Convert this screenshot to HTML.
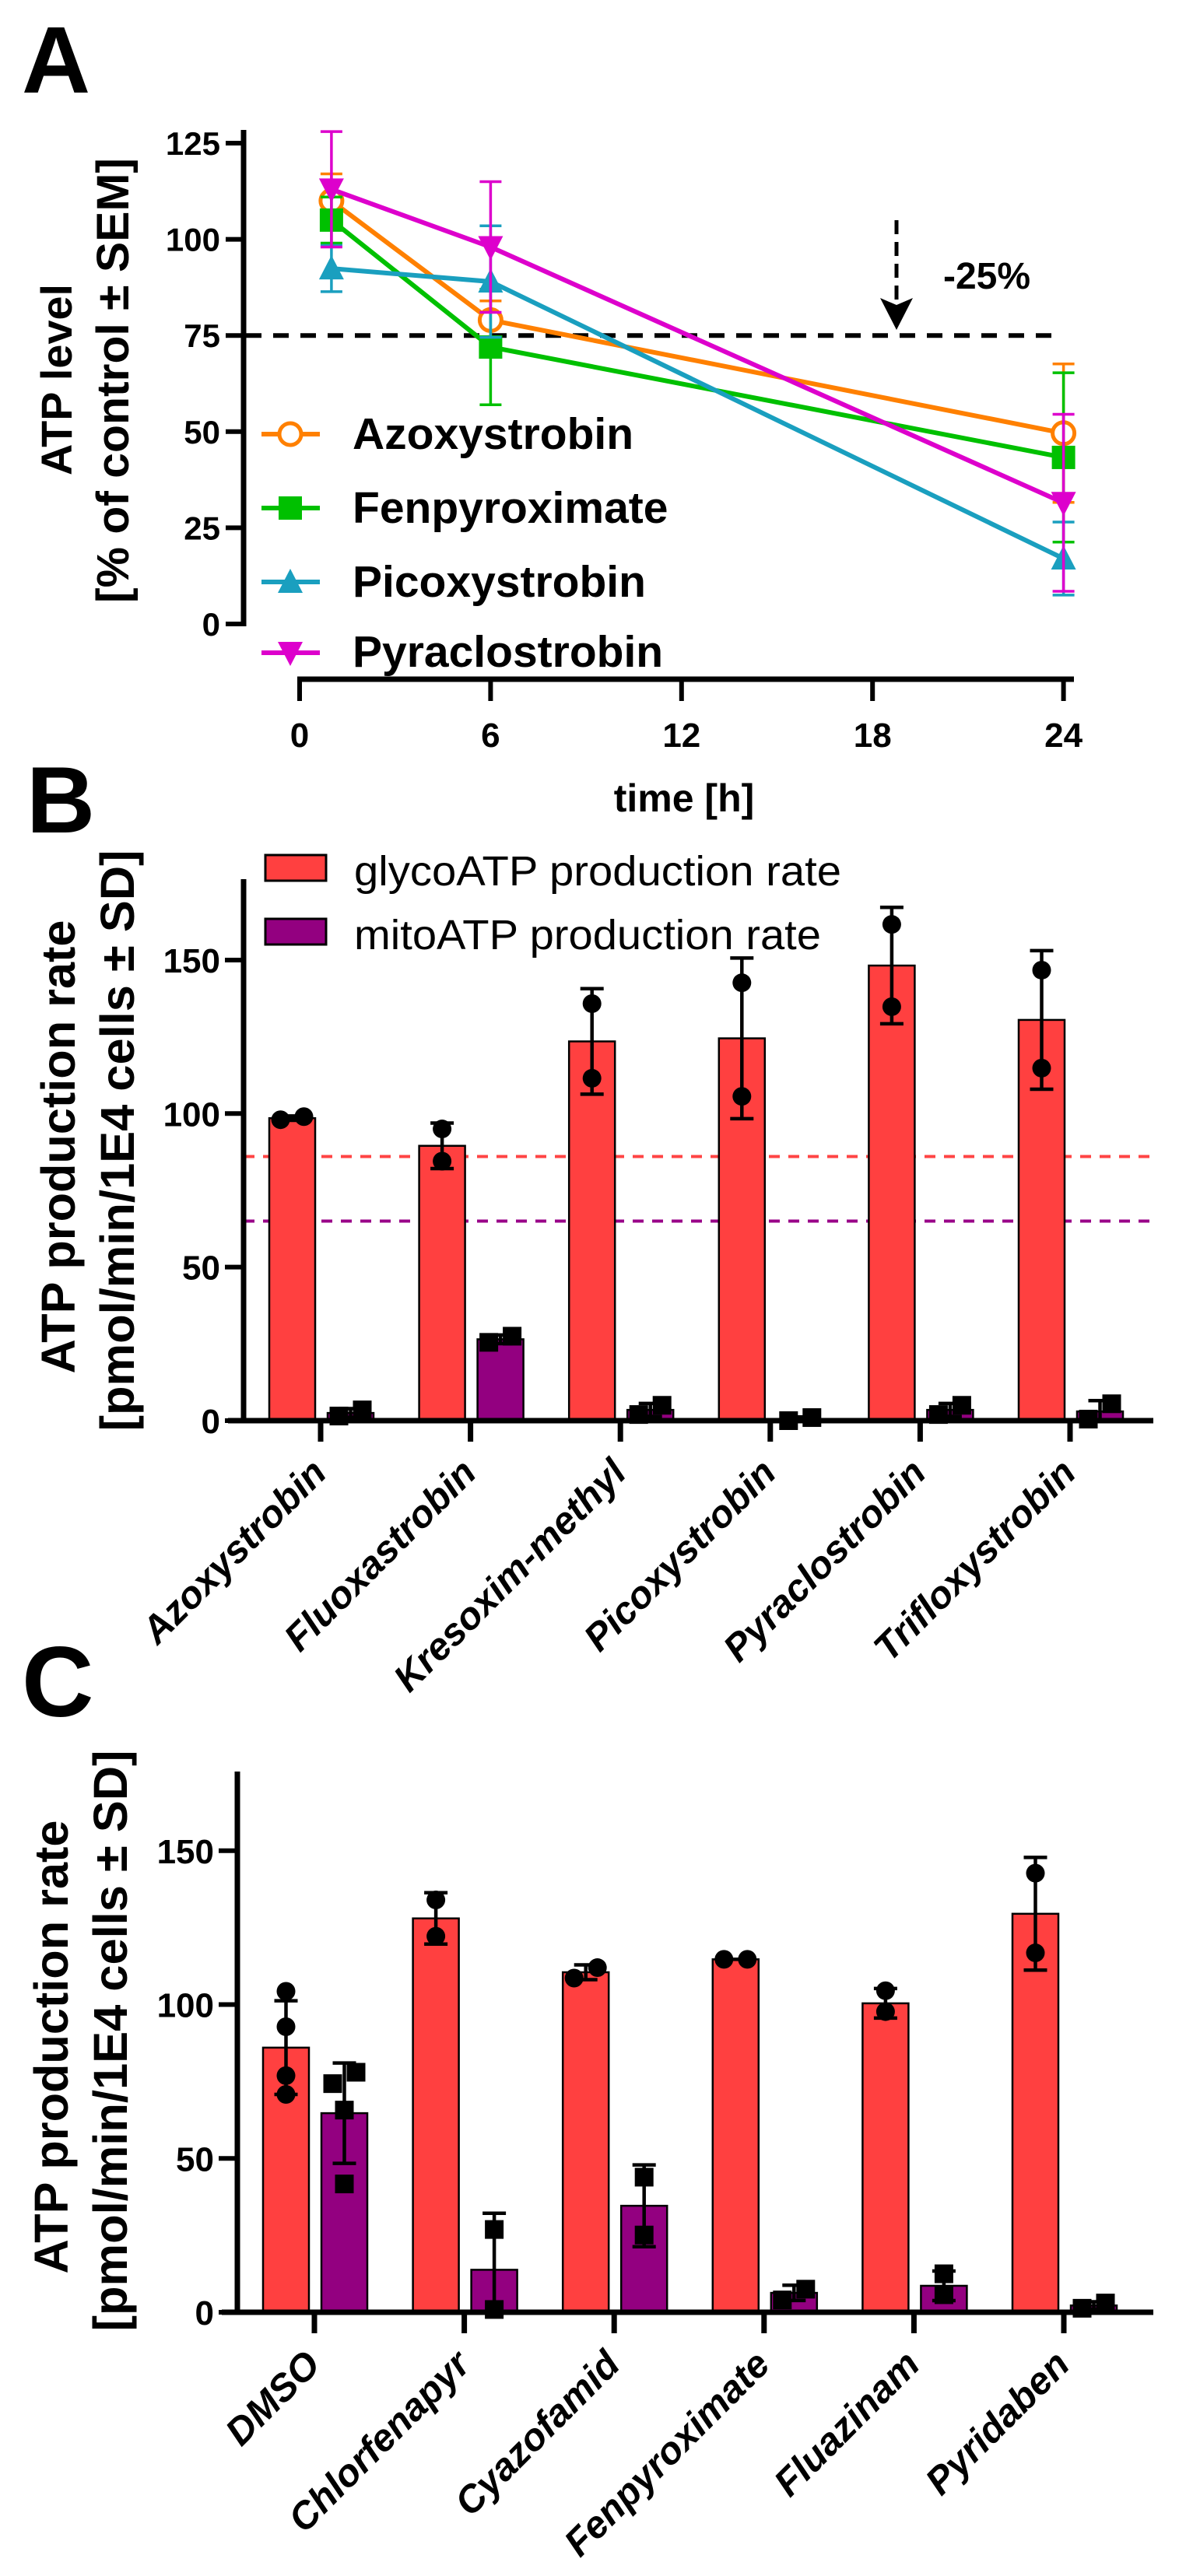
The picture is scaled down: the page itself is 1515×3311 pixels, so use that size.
<!DOCTYPE html>
<html><head><meta charset="utf-8"><style>
html,body{margin:0;padding:0;background:#fff;}
svg{display:block;font-family:"Liberation Sans",Arial,sans-serif;}
</style></head><body>
<svg id="fig" width="1515" height="3311" viewBox="0 0 1515 3311" xmlns="http://www.w3.org/2000/svg">
<rect x="0" y="0" width="1515" height="3311" fill="#fff"/>
<text x="28" y="119" font-size="122" font-weight="bold">A</text>
<text x="34" y="1070" font-size="122" font-weight="bold">B</text>
<text x="28" y="2206" font-size="128" font-weight="bold">C</text>
<g id="gA"></g>
<g id="gB"></g>
<g id="gC"></g>
</svg>
<script>
// ---------- Panel A data ----------
const timesA = [1, 6, 24];
const xTicksA = [0, 6, 12, 18, 24];
const yTicksA = [0, 25, 50, 75, 100, 125];
const seriesNamesA = ["Azoxystrobin", "Fenpyroximate", "Picoxystrobin", "Pyraclostrobin"];
const azoxyMean = [110, 79, 49.6];
const azoxySem = [7, 5, 18];
const fenpyMean = [105, 72, 43.3];
const fenpySem = [6, 15, 22];
const picoMean = [92.4, 89, 17];
const picoSem = [6, 14.5, 9.5];
const pyraMean = [113, 98, 31.5];
const pyraSem = [15, 17, 23];
const thresholdA = 75;

// ---------- Panel B data ----------
const categoriesB = ["Azoxystrobin", "Fluoxastrobin", "Kresoxim-methyl", "Picoxystrobin", "Pyraclostrobin", "Trifloxystrobin"];
const glycoMeanB = [98.5, 89.5, 123.5, 124.5, 148.2, 130.5];
const glycoPtsB = [[98, 99], [95, 84.5], [135.8, 111.5], [142.6, 105.6], [161.6, 134.8], [146.7, 114.8]];
const mitoMeanB = [2.5, 26.5, 3.5, 0.5, 3.5, 3];
const mitoPtsB = [[1.5, 3.5], [25.5, 27.5], [2, 5], [0, 1], [2, 5], [0.5, 5.5]];
const yTicksB = [0, 50, 100, 150];
const refGlycoB = 86;
const refMitoB = 65;

// ---------- Panel C data ----------
const categoriesC = ["DMSO", "Chlorfenapyr", "Cyazofamid", "Fenpyroximate", "Fluazinam", "Pyridaben"];
const glycoMeanC = [86, 128, 110.5, 114.7, 100.4, 129.5];
const glycoPtsC = [[104.3, 92.8, 76.9, 70.8], [134, 122.2], [108.6, 112], [114.7, 114.7], [104.5, 97.7], [142.7, 116.8]];
const mitoMeanC = [64.7, 13.8, 34.6, 6.3, 8.6, 2.2];
const mitoPtsC = [[78, 74.3, 65.7, 41.7], [26.9, 0.9], [43.9, 25.1], [4, 7.5], [12.5, 5.7], [1.3, 3]];
const yTicksC = [0, 50, 100, 150];

const NS = "http://www.w3.org/2000/svg";
function mk(parent, tag, attrs, text) {
  const e = document.createElementNS(NS, tag);
  for (const k in attrs) e.setAttribute(k, attrs[k]);
  if (text !== undefined) e.textContent = text;
  parent.appendChild(e);
  return e;
}

// ================= Panel A =================
(function () {
  const g = document.getElementById('gA');
  const xA = h => 385 + h * 40.9;
  const yA = v => 802 - v * 4.944;
  let e = mk(g, 'line', {x1: 313, y1: 167, x2: 313, y2: 805, stroke: '#000', 'stroke-width': 7});
  
  
  yTicksA.forEach(v => {
    let t = mk(g, 'line', {x1: 290, y1: yA(v), x2: 313, y2: yA(v), stroke: '#000', 'stroke-width': 6});
    
    
    let l = mk(g, 'text', {x: 283, y: yA(v) + 15, 'font-size': 42, 'font-weight': 'bold', 'text-anchor': 'end'}, String(v));
    
    
  });
  e = mk(g, 'line', {x1: 382, y1: 873, x2: 1380, y2: 873, stroke: '#000', 'stroke-width': 7});
  
  
  xTicksA.forEach(h => {
    let t = mk(g, 'line', {x1: xA(h), y1: 873, x2: xA(h), y2: 901, stroke: '#000', 'stroke-width': 6});
    
    
    let l = mk(g, 'text', {x: xA(h), y: 960, 'font-size': 44, 'font-weight': 'bold', 'text-anchor': 'middle'}, String(h));
    
    
  });
  e = mk(g, 'text', {x: 879, y: 1043, 'font-size': 50, 'font-weight': 'bold', 'text-anchor': 'middle'}, 'time [h]');
  
  
  e = mk(g, 'text', {x: 0, y: 0, 'font-size': 56, 'font-weight': 'bold', 'text-anchor': 'middle', transform: 'translate(92,488) rotate(-90)', textLength: 246, lengthAdjust: 'spacingAndGlyphs'}, 'ATP level');
  
  
  e = mk(g, 'text', {x: 0, y: 0, 'font-size': 58, 'font-weight': 'bold', 'text-anchor': 'middle', transform: 'translate(165,489) rotate(-90)', textLength: 572, lengthAdjust: 'spacingAndGlyphs'}, '[% of control \u00b1 SEM]');
  
  
  e = mk(g, 'line', {x1: 316, y1: yA(thresholdA), x2: 1352, y2: yA(thresholdA), stroke: '#000', 'stroke-width': 6, 'stroke-dasharray': '20 15'});
  
  
  e = mk(g, 'line', {x1: 1152, y1: 283, x2: 1152, y2: 395, stroke: '#000', 'stroke-width': 5, 'stroke-dasharray': '18 10'});
  
  
  e = mk(g, 'path', {d: 'M1131 383 L1152 392 L1173 383 L1152 424 Z', fill: '#000'});
  
  
  e = mk(g, 'text', {x: 1212, y: 371, 'font-size': 48, 'font-weight': 'bold'}, '-25%');
  
  

  const colors = ['#ff8000', '#00c000', '#1a9fbf', '#dd00cc'];
  const means = [azoxyMean, fenpyMean, picoMean, pyraMean];
  const sems = [azoxySem, fenpySem, picoSem, pyraSem];
  const shapes = ['circle', 'square', 'tri', 'tridown'];
  function marker(parent, shape, cx, cy, col) {
    let m;
    if (shape === 'circle') m = mk(parent, 'circle', {cx, cy, r: 14, fill: '#fff', stroke: col, 'stroke-width': 5});
    else if (shape === 'square') m = mk(parent, 'rect', {x: cx - 15, y: cy - 15, width: 30, height: 30, fill: col});
    else if (shape === 'tri') m = mk(parent, 'path', {d: `M${cx} ${cy - 17} L${cx + 16} ${cy + 14} L${cx - 16} ${cy + 14} Z`, fill: col});
    else m = mk(parent, 'path', {d: `M${cx} ${cy + 17} L${cx + 16} ${cy - 14} L${cx - 16} ${cy - 14} Z`, fill: col});
    return m;
  }
  const legY = [558, 653, 748, 839];
  const legBase = [577, 672, 767, 857];
  means.forEach((mv, s) => {
    const col = colors[s];
    const sg = mk(g, 'g', {});
    
    
    const pts = timesA.map((t, i) => xA(t) + ',' + yA(mv[i])).join(' ');
    let pl = mk(sg, 'polyline', {points: pts, fill: 'none', stroke: col, 'stroke-width': 6});
    
    
    timesA.forEach((t, i) => {
      const x = xA(t), y1 = yA(mv[i] + sems[s][i]), y2 = yA(mv[i] - sems[s][i]);
      let eb = mk(sg, 'path', {d: `M${x} ${y1} V${y2} M${x - 14} ${y1} H${x + 14} M${x - 14} ${y2} H${x + 14}`, stroke: col, 'stroke-width': 3.5, fill: 'none'});
      
      
    });
    timesA.forEach((t, i) => {
      let m = marker(sg, shapes[s], xA(t), yA(mv[i]), col);
      
      
    });
    const lg = mk(g, 'g', {});
    
    
    mk(lg, 'line', {x1: 336, y1: legY[s], x2: 411, y2: legY[s], stroke: col, 'stroke-width': 6});
    marker(lg, shapes[s], 373, legY[s], col);
    mk(lg, 'text', {x: 453, y: legBase[s], 'font-size': 57, 'font-weight': 'bold'}, seriesNamesA[s]);
  });
})();

// ================= Bar panels =================
function barPanel(gid, tag, axisX, axisY, yTop, scale, tick0, mean1, pts1, mean2, pts2, cats, yTicks, titleX1, titleX2, titleCY, refs) {
  const g = document.getElementById(gid);
  const y = v => axisY - v * scale;
  const tx = i => tick0 + i * 192.6;
  if (refs) {
    let r1 = mk(g, 'line', {x1: axisX, y1: y(refs[0]), x2: 1482, y2: y(refs[0]), stroke: '#ff4444', 'stroke-width': 4, 'stroke-dasharray': '14 11'});
    
    
    let r2 = mk(g, 'line', {x1: axisX, y1: y(refs[1]), x2: 1482, y2: y(refs[1]), stroke: '#990088', 'stroke-width': 4, 'stroke-dasharray': '14 11'});
    
    
  }
  function sd(a) {
    const m = a.reduce((s, v) => s + v, 0) / a.length;
    return Math.sqrt(a.reduce((s, v) => s + (v - m) * (v - m), 0) / (a.length - 1));
  }
  function offsets(vals) {
    const px = vals.map(v => y(v));
    const idx = px.map((p, i) => i).sort((a, b) => px[b] - px[a]);
    const off = new Array(vals.length).fill(0);
    let cl = [idx[0]];
    const flush = () => { cl.forEach((k, j) => { off[k] = (j - (cl.length - 1) / 2) * 30; }); };
    for (let j = 1; j < idx.length; j++) {
      if (px[idx[j - 1]] - px[idx[j]] < 22) cl.push(idx[j]); else { flush(); cl = [idx[j]]; }
    }
    flush();
    return off;
  }
  cats.forEach((c, i) => {
    const grp = mk(g, 'g', {});
    
    
    [[mean1, pts1, -66, '#ff4040', 'circle'], [mean2, pts2, 9, '#930080', 'square']].forEach(([mv, pv, dx, col, sh]) => {
      const x0 = tx(i) + dx, w = 59, cx = x0 + w / 2;
      const top = y(Math.max(mv[i], 0));
      let b = mk(grp, 'rect', {x: x0, y: top, width: w, height: axisY - top, fill: col, stroke: '#000', 'stroke-width': 2.5});
      
      
      const s = sd(pv[i]);
      const lo = mv[i] - s;
      const y1 = y(mv[i] + s), y2 = y(Math.max(lo, 0));
      let d = `M${cx} ${y1} V${y2} M${cx - 15} ${y1} H${cx + 15}`;
      if (lo > 0) d += ` M${cx - 15} ${y2} H${cx + 15}`;
      let eb = mk(grp, 'path', {d: d, stroke: '#000', 'stroke-width': 4.5, fill: 'none'});
      
      
      const off = offsets(pv[i]);
      pv[i].forEach((v, k) => {
        let p;
        if (sh === 'circle') p = mk(grp, 'circle', {cx: cx + off[k], cy: y(v), r: 12, fill: '#000'});
        else p = mk(grp, 'rect', {x: cx + off[k] - 12, y: y(v) - 12, width: 24, height: 24, fill: '#000'});
        
        
      });
    });
    let t = mk(g, 'line', {x1: tx(i), y1: axisY, x2: tx(i), y2: axisY + 27, stroke: '#000', 'stroke-width': 7});
    
    
    let l = mk(g, 'text', {x: 0, y: 0, 'font-size': 49, 'font-weight': 'bold', 'font-style': 'italic', 'text-anchor': 'end', transform: `translate(${tx(i) + 10},${axisY + 70}) rotate(-45)`}, c);
    
    
  });
  let ya = mk(g, 'line', {x1: axisX, y1: yTop, x2: axisX, y2: axisY + 3, stroke: '#000', 'stroke-width': 7});
  
  
  let xa = mk(g, 'line', {x1: axisX - 20, y1: axisY, x2: 1482, y2: axisY, stroke: '#000', 'stroke-width': 7});
  
  
  yTicks.forEach(v => {
    let t = mk(g, 'line', {x1: axisX - 24, y1: y(v), x2: axisX, y2: y(v), stroke: '#000', 'stroke-width': 6});
    
    
    let l = mk(g, 'text', {x: axisX - 30, y: y(v) + 16, 'font-size': 44, 'font-weight': 'bold', 'text-anchor': 'end'}, String(v));
    
    
  });
  let t1 = mk(g, 'text', {x: 0, y: 0, 'font-size': 61, 'font-weight': 'bold', 'text-anchor': 'middle', transform: `translate(${titleX1},${titleCY + 8}) rotate(-90)`, textLength: 583, lengthAdjust: 'spacingAndGlyphs'}, 'ATP production rate');
  
  
  let t2 = mk(g, 'text', {x: 0, y: 0, 'font-size': 61, 'font-weight': 'bold', 'text-anchor': 'middle', transform: `translate(${titleX2},${titleCY}) rotate(-90)`, textLength: 747, lengthAdjust: 'spacingAndGlyphs'}, '[pmol/min/1E4 cells \u00b1 SD]');
  
  
}
barPanel('gB', 'b', 313, 1826, 1130, 3.947, 412, glycoMeanB, glycoPtsB, mitoMeanB, mitoPtsB, categoriesB, yTicksB, 96, 172, 1466, [refGlycoB, refMitoB]);
barPanel('gC', 'c', 305, 2972, 2277, 3.955, 404, glycoMeanC, glycoPtsC, mitoMeanC, mitoPtsC, categoriesC, yTicksC, 87, 163, 2623, null);

// legend B
(function () {
  const g = document.getElementById('gB');
  const l1 = mk(g, 'g', {});
  
  
  mk(l1, 'rect', {x: 341, y: 1099, width: 78, height: 33, fill: '#ff4040', stroke: '#000', 'stroke-width': 3});
  mk(l1, 'text', {x: 455, y: 1138, 'font-size': 54, textLength: 626, lengthAdjust: 'spacingAndGlyphs'}, 'glycoATP production rate');
  const l2 = mk(g, 'g', {});
  
  
  mk(l2, 'rect', {x: 341, y: 1181, width: 78, height: 33, fill: '#930080', stroke: '#000', 'stroke-width': 3});
  mk(l2, 'text', {x: 455, y: 1220, 'font-size': 54, textLength: 600, lengthAdjust: 'spacingAndGlyphs'}, 'mitoATP production rate');
})();
</script>
</body></html>
